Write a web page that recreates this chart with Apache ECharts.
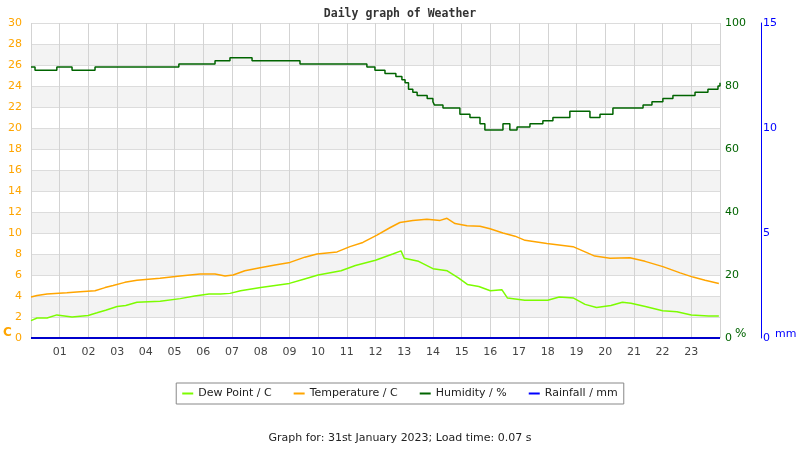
<!DOCTYPE html>
<html>
<head>
<meta charset="utf-8">
<script src="https://cdn.jsdelivr.net/npm/echarts@6/dist/echarts.min.js"></script>
<style>
  html, body { margin: 0; padding: 0; background: #fff; }
  #chart { width: 800px; height: 450px; }
</style>
</head>
<body>
<div id="chart"></div>
<script>
// readings for 31st January 2023, hour of day -> value
var tempHours = [0, 0.21, 0.56, 1.25, 1.71, 2.23, 2.58, 2.86, 3.27, 3.69, 4.49, 5.19, 5.89, 6.41, 6.76, 7.04, 7.45, 7.98, 8.5, 9.02, 9.54, 9.96, 10.66, 11.11, 11.56, 12.05, 12.5, 12.85, 13.3, 13.79, 14.25, 14.49, 14.77, 15.19, 15.64, 15.99, 16.44, 16.86, 17.21, 17.97, 18.88, 19.3, 19.64, 20.17, 20.86, 21.39, 22.01, 22.61, 23.06, 23.48, 23.96]
var tempValues = [3.9, 4.05, 4.2, 4.3, 4.4, 4.5, 4.8, 5.0, 5.3, 5.5, 5.7, 5.9, 6.1, 6.1, 5.9, 6.0, 6.4, 6.7, 6.95, 7.2, 7.7, 8.0, 8.2, 8.7, 9.1, 9.8, 10.5, 11.0, 11.2, 11.3, 11.2, 11.4, 10.9, 10.7, 10.65, 10.4, 10.0, 9.7, 9.3, 9.0, 8.7, 8.2, 7.8, 7.6, 7.65, 7.3, 6.8, 6.2, 5.8, 5.5, 5.2]

var dewHours = [0, 0.21, 0.56, 0.9, 1.43, 1.99, 2.3, 2.6, 3.0, 3.3, 3.69, 4.5, 5.2, 5.7, 6.2, 6.6, 6.93, 7.3, 8.0, 9.0, 9.5, 10.0, 10.8, 11.3, 12.0, 12.6, 12.89, 13.0, 13.5, 14.0, 14.5, 14.9, 15.2, 15.6, 16.0, 16.4, 16.6, 17.2, 18.0, 18.4, 18.9, 19.3, 19.7, 20.2, 20.6, 20.9, 21.4, 22.0, 22.5, 23.0, 23.6, 23.96]
var dewValues = [1.65, 1.9, 1.9, 2.2, 2.0, 2.15, 2.4, 2.65, 3.0, 3.1, 3.4, 3.5, 3.75, 4.0, 4.2, 4.2, 4.25, 4.5, 4.8, 5.2, 5.6, 6.0, 6.4, 6.9, 7.4, 8.0, 8.3, 7.6, 7.3, 6.6, 6.4, 5.7, 5.1, 4.9, 4.5, 4.6, 3.8, 3.6, 3.6, 3.9, 3.8, 3.2, 2.9, 3.1, 3.4, 3.3, 3.0, 2.6, 2.5, 2.2, 2.1, 2.1]

var humHours = [0, 0.14, 0.9, 1.43, 2.23, 5.15, 6.41, 6.93, 7.7, 9.37, 11.7, 11.98, 12.33, 12.71, 12.92, 13.03, 13.15, 13.3, 13.45, 13.8, 14.0, 14.05, 14.35, 14.94, 15.29, 15.64, 15.81, 16.44, 16.68, 16.93, 17.38, 17.83, 18.18, 18.77, 19.47, 19.82, 20.27, 21.32, 21.63, 22.01, 22.36, 23.13, 23.58, 23.93, 24]
var humValues = [86, 85, 86, 85, 86, 87, 88, 89, 88, 87, 86, 85, 84, 83, 82, 81, 79, 78, 77, 76, 75, 74, 73, 71, 70, 68, 66, 68, 66, 67, 68, 69, 70, 72, 70, 71, 73, 74, 75, 76, 77, 78, 79, 80, 81, 81]

var rainHours = [0, 24]
var rainValues = [0, 0]

function pairs(xs, ys) {
  return xs.map(function (x, i) { return [x, ys[i]] })
}

var myChart = echarts.init(document.getElementById('chart'))
var font = 'DejaVu Sans'

var option = {
  animation: false,
  backgroundColor: '#fff',
  title: {
    text: 'Daily graph of Weather',
    left: 'center',
    top: 3,
    textStyle: { fontFamily: 'DejaVu Sans Mono', fontWeight: 'bold', fontSize: 11.5, color: '#333' }
  },
  legend: {
    left: 'center',
    top: 383,
    borderColor: '#888',
    borderWidth: 1,
    padding: [5, 6, 5, 6],
    itemGap: 22,
    itemWidth: 11,
    itemHeight: 2,
    icon: 'rect',
    textStyle: { fontFamily: font, fontSize: 11, color: '#222' },
    data: ['Dew Point / C', 'Temperature / C', 'Humidity / %', 'Rainfall / mm']
  },
  grid: { left: 31, right: 80, top: 23, bottom: 112, containLabel: false },
  xAxis: {
    type: 'value',
    min: 0,
    max: 24,
    interval: 1,
    axisLine: { show: false },
    axisTick: { show: false },
    splitLine: { show: true, lineStyle: { color: '#d3d3d3', width: 1 } },
    axisLabel: {
      margin: 9,
      fontFamily: font,
      fontSize: 11,
      color: '#444',
      formatter: function (v) {
        if (v === 0 || v === 24) return ''
        return (v < 10 ? '0' : '') + v
      }
    }
  },
  yAxis: [
    {
      type: 'value',
      min: 0,
      max: 30,
      interval: 2,
      position: 'left',
      axisLine: { show: false },
      axisTick: { show: false },
      axisLabel: { margin: 9, fontFamily: font, fontSize: 11, color: '#ffa500' },
      splitLine: { show: true, lineStyle: { color: '#dcdcdc' } },
      splitArea: { show: true, areaStyle: { color: ['#ffffff', '#f3f3f3'] } }
    },
    {
      type: 'value',
      min: 0,
      max: 100,
      interval: 20,
      position: 'right',
      axisLine: { show: false },
      axisTick: { show: false },
      splitLine: { show: false },
      axisLabel: { margin: 5, fontFamily: font, fontSize: 11, color: '#006400' }
    },
    {
      type: 'value',
      min: 0,
      max: 15,
      interval: 5,
      position: 'right',
      offset: 41,
      axisLine: { show: true, lineStyle: { color: '#0000ff', width: 1 } },
      axisTick: { show: false },
      splitLine: { show: false },
      axisLabel: { margin: 2, fontFamily: font, fontSize: 11, color: '#0000ff' }
    }
  ],
  graphic: [
    { type: 'text', left: 3, top: 327, style: { text: 'C', fill: '#ffa500', font: 'bold 12px DejaVu Sans' } },
    { type: 'text', left: 735, top: 328, style: { text: '%', fill: '#006400', font: '12px DejaVu Sans' } },
    { type: 'text', left: 775, top: 329, style: { text: 'mm', fill: '#0000ff', font: '11px DejaVu Sans' } },
    { type: 'text', left: 'center', top: 433, style: { text: 'Graph for: 31st January 2023; Load time: 0.07 s', fill: '#222', font: '11px DejaVu Sans' } }
  ],
  series: [
    {
      name: 'Dew Point / C',
      type: 'line',
      yAxisIndex: 0,
      showSymbol: false,
      color: '#7cfc00',
      lineStyle: { width: 1.5, color: '#7cfc00' },
      data: pairs(dewHours, dewValues)
    },
    {
      name: 'Temperature / C',
      type: 'line',
      yAxisIndex: 0,
      showSymbol: false,
      color: '#ffa500',
      lineStyle: { width: 1.5, color: '#ffa500' },
      data: pairs(tempHours, tempValues)
    },
    {
      name: 'Humidity / %',
      type: 'line',
      yAxisIndex: 1,
      step: 'end',
      showSymbol: false,
      color: '#006400',
      lineStyle: { width: 1.5, color: '#006400' },
      data: pairs(humHours, humValues)
    },
    {
      name: 'Rainfall / mm',
      type: 'line',
      yAxisIndex: 2,
      showSymbol: false,
      color: '#0000ff',
      lineStyle: { width: 2, color: '#0000cc' },
      data: pairs(rainHours, rainValues)
    }
  ]
}

myChart.setOption(option)
window.addEventListener('resize', function () { myChart.resize() })
</script>
</body>
</html>
